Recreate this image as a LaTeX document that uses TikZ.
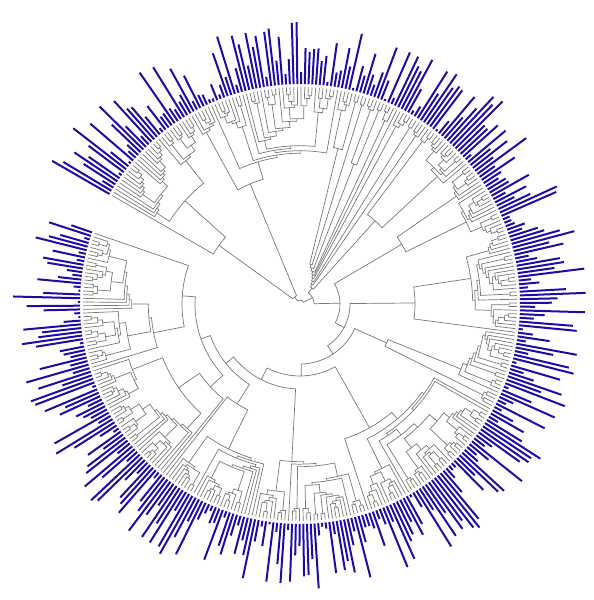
\documentclass[tikz,border=0pt]{standalone}
\definecolor{barblue}{RGB}{30,12,165}
\definecolor{treegray}{RGB}{120,120,120}
\newcount\leafctr
\def\Rtip{217}
\def\Astart{161}
\def\Astep{0.97214}
\def\Dmax{205}
\def\pcat{0.45}
\def\pside{0.5}
\tikzset{treeline/.style={draw=treegray,line width=0.7pt},
         barline/.style={draw=barblue,line width=2pt}}
\newcommand\TLeaf{%
  \pgfmathsetmacro\tA{\Astart+\Astep*\the\leafctr}%
  \global\advance\leafctr by 1\relax
  \pgfmathsetmacro\tB{\Rtip+3}%
  \pgfmathsetmacro\tE{\Rtip+5+65*rnd}%
  \draw[barline] (\tA:\tB pt) -- (\tA:\tE pt);%
  \xdef\retA{\tA}\xdef\retR{\Rtip}}
\newcommand\TDrawJoin{%
  \pgfmathsetmacro\tmid{(\aA+\aB)/2}%
  \draw[treeline] (\aA:\rA pt) -- (\aA:\tr pt) arc[start angle=\aA,end angle=\aB,radius=\tr pt] -- (\aB:\rB pt);%
  \xdef\retA{\tmid}\xdef\retR{\tr}}
\newcommand\TRndX[2]{%
  \ifnum#1<2 \TLeaf\else
  \begingroup
    \pgfmathsetmacro\tn{int(#1)}%
    \pgfmathsetmacro\tu{rnd}%
    \ifdim\tu pt<\pcat pt
      \pgfmathsetmacro\tv{rnd}%
      \ifdim\tv pt<\pside pt \pgfmathsetmacro\tk{int(\tn-1)}\else\def\tk{1}\fi
    \else
      \pgfmathsetmacro\tk{int(min(\tn-1,1+floor(rnd*(\tn-1))))}%
    \fi
    \pgfmathsetmacro\tm{int(\tn-\tk)}%
    \TRndX{\tk}{0}\let\aA\retA\let\rA\retR
    \TRndX{\tm}{0}\let\aB\retA\let\rB\retR
    \ifdim #2pt>0pt
      \pgfmathsetmacro\tr{min(#2,\rA-2.5,\rB-2.5)}%
    \else
      \pgfmathsetmacro\tr{min(\Rtip-\Dmax*((\tn-1)/359)^0.55*(0.7+0.6*rnd),\rA-2.5,\rB-2.5)}%
    \fi
    \TDrawJoin
  \endgroup\fi}
\newcommand\TJ[3]{%
  \begingroup
  #2\let\aA\retA\let\rA\retR
  #3\let\aB\retA\let\rB\retR
  \def\tr{#1}%
  \TDrawJoin
  \endgroup}
\begin{document}
\begin{tikzpicture}
\useasboundingbox (-300pt,-296pt) rectangle (294pt,304pt);
\pgfmathsetseed{4242}
\global\leafctr=0
\TJ{4}{%
  \TJ{14}{%
    \TJ{40}{%
      \TJ{50}{%
        \TJ{60}{%
          \TJ{72}{%
            \TJ{85}{%
              \TJ{95}{%
                \TJ{105}{\TRndX{38}{118}}{\TRndX{35}{122}}%
              }{\TRndX{27}{118}}%
            }{\TRndX{31}{162}}%
          }{\TRndX{45}{142}}%
        }{\TRndX{21}{95}}%
      }{\TRndX{28}{115}}%
    }{\TRndX{21}{118}}%
  }{%
    \TJ{20}{\TRndX{15}{112}}{%
      \TJ{23}{\TRndX{3}{0}}{%
        \TJ{26}{\TRndX{2}{0}}{%
          \TJ{29}{\TRndX{4}{0}}{%
            \TJ{32}{\TRndX{1}{0}}{%
              \TJ{35}{\TRndX{3}{0}}{%
                \TJ{38}{\TRndX{5}{150}}{%
                  \TJ{41}{\TRndX{2}{0}}{\TRndX{6}{160}}}}}}}}}%
  }%
}{%
  \TJ{9}{\TRndX{42}{130}}{\begingroup\def\pcat{0.75}\def\pside{0.9}\TRndX{31}{100}\endgroup}%
}
\end{tikzpicture}
\end{document}
